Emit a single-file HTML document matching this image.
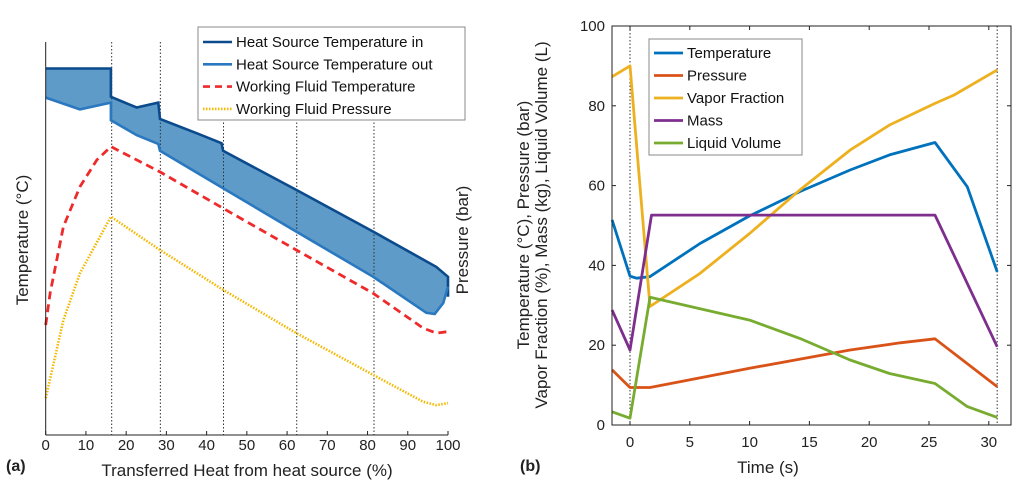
<!DOCTYPE html>
<html><head><meta charset="utf-8"><style>
body{margin:0;background:#fff;}
svg{display:block;font-family:"Liberation Sans",sans-serif;}
</style></head><body>
<svg id="fig" width="1024" height="492" viewBox="0 0 1024 492"></svg>
<script>
// ---- Chart (a) data ----
const aHotInX = [0,16.2,16.2,22.6,28.0,28.4,37.5,43.7,44.1,62.3,81.4,97.1,100,100];
const aHotInY = [95.7,95.7,88.3,85.5,86.8,82.5,78.8,76.2,74.2,64,53.1,43.9,41.3,36.1];
const aHotOutX = [0,8.5,16.2,16.2,22.6,28.0,28.4,44.1,62.3,81.4,94.6,96.7,98.8,100];
const aHotOutY = [88.1,85.0,86.8,82.2,78.3,76.0,74.2,64.4,53.1,41.3,31.9,31.6,34.4,38.7];
const aWfX = [0,1.1,4.4,8.5,12.7,16.2,28.4,44.1,62.3,81.4,93.8,97.1,100];
const aWfY = [28.7,37,54.4,64.8,71.8,75.3,68.7,59.2,48.3,37,27.9,26.6,27];
const aPrX = [0,4.4,8.5,16.2,28.4,44.1,62.3,81.4,93.8,97.1,100];
const aPrY = [9.6,30,42.2,57,48.3,37.9,26.6,15.7,8.7,7.8,8.3];
const aDivX = [16.4,28.5,44.2,62.4,81.6];
const aTicks = [0,10,20,30,40,50,60,70,80,90,100];
// ---- Chart (b) data ----
const bTempX=[-1.5,0,0.56,1.67,5.85,10,14.2,18.4,21.7,25.5,28.2,30.7];
const bTempY=[51.4,37.3,36.8,37.2,45.5,52.4,58.5,63.9,67.7,70.8,59.7,38.4];
const bPresX=[-1.5,0,1.67,10,18.4,22.6,25.5,30.7];
const bPresY=[13.8,9.4,9.4,14.2,18.8,20.6,21.6,9.6];
const bVapX=[-1.5,0,1.67,5.85,10,14.2,18.4,21.7,25.5,27.1,30.7];
const bVapY=[87.3,90,29.7,38,48,58.9,68.9,75.2,80.6,82.7,89];
const bMassX=[-1.5,0,1.8,25.5,30.7];
const bMassY=[28.8,18.8,52.6,52.6,19.6];
const bLiqX=[-1.5,0,1.67,10,14.2,18.4,21.7,25.5,28.2,30.7];
const bLiqY=[3.3,1.7,32,26.3,21.7,16.3,12.9,10.4,4.6,1.9];
const bXTicks=[0,5,10,15,20,25,30];
const bYTicks=[0,20,40,60,80,100];

const NS="http://www.w3.org/2000/svg";
const svg=document.getElementById('fig');
function mk(tag,attrs,parent){const e=document.createElementNS(NS,tag);for(const k in attrs)e.setAttribute(k,attrs[k]);(parent||svg).appendChild(e);return e;}
function txt(s,x,y,attrs){const e=mk('text',Object.assign({x:x,y:y},attrs||{}));e.textContent=s;return e;}

const axL=45.7, axR=448, ayB=435, ayT=52;
const ax=v=>axL+(axR-axL)*v/100;
const ay=v=>ayB-(ayB-ayT)*v/100;
const bxL=612, bxR=1011, byB=425, byT=26;
const bx=v=>630+v*11.96;
const by=v=>byB-(byB-byT)*v/100;

function pts(X,Y,fx,fy){return X.map((x,i)=>fx(x).toFixed(1)+','+fy(Y[i]).toFixed(1)).join(' ');}

// ---------- Chart a ----------
const ga=mk('g',{});


let band=pts(aHotInX,aHotInY,ax,ay)+' '+pts(aHotOutX.slice().reverse(),aHotOutY.slice().reverse(),ax,ay);
const bandEl=mk('polygon',{points:band,fill:'#5e9bc8',stroke:'none'},ga);


aDivX.forEach(d=>{const l=mk('line',{x1:ax(d),x2:ax(d),y1:ayT-10,y2:ayB,stroke:'#333','stroke-width':1,'stroke-dasharray':'1.5,2'},ga);

});
const hin=mk('polyline',{points:pts(aHotInX,aHotInY,ax,ay),fill:'none',stroke:'#0b4a8c','stroke-width':2.6},ga);


const hout=mk('polyline',{points:pts(aHotOutX,aHotOutY,ax,ay),fill:'none',stroke:'#2a78c0','stroke-width':2.6},ga);


const wf=mk('polyline',{points:pts(aWfX,aWfY,ax,ay),fill:'none',stroke:'#ee2a2a','stroke-width':2.8,'stroke-dasharray':'8,5'},ga);


const wp=mk('polyline',{points:pts(aPrX,aPrY,ax,ay),fill:'none',stroke:'#f5b800','stroke-width':2.6,'stroke-dasharray':'1.5,1.5'},ga);


mk('line',{x1:axL,x2:axL,y1:42,y2:ayB,stroke:'#222','stroke-width':1},ga);
mk('line',{x1:axL,x2:axR,y1:ayB,y2:ayB,stroke:'#222','stroke-width':1},ga);
aTicks.forEach(t=>{mk('line',{x1:ax(t),x2:ax(t),y1:ayB,y2:ayB-4,stroke:'#222'},ga);
const e=txt(t,ax(t),450,{'font-size':15,'text-anchor':'middle',fill:'#222'});

});
let e;
e=txt('Transferred Heat from heat source (%)',247,476,{'font-size':17,'text-anchor':'middle',fill:'#222'});

e=txt('Temperature (°C)',0,0,{'font-size':17,'text-anchor':'middle',fill:'#222',transform:'translate(28,240) rotate(-90)'});

e=txt('Pressure (bar)',0,0,{'font-size':17,'text-anchor':'middle',fill:'#222',transform:'translate(468,240) rotate(-90)'});

e=txt('(a)',6,471,{'font-size':16,'font-weight':'bold',fill:'#222'});

const lga=mk('g',{},ga);


mk('rect',{x:198,y:27,width:267,height:93,fill:'#fff',stroke:'#888','stroke-width':1},lga);
[['Heat Source Temperature in','#0b4a8c',''],['Heat Source Temperature out','#2a78c0',''],['Working Fluid Temperature','#ee2a2a','7,5'],['Working Fluid Pressure','#f5b800','1.5,1.5']].forEach((it,i)=>{
const y=42+i*22.3;
const g=mk('g',{},lga);


mk('line',{x1:203,x2:232,y1:y,y2:y,stroke:it[1],'stroke-width':2.6,'stroke-dasharray':it[2]},g);
txt(it[0],236,y+5,{'font-size':15,fill:'#111'});
});

// ---------- Chart b ----------
const gb=mk('g',{});


[0,30.7].forEach(d=>{const l=mk('line',{x1:bx(d),x2:bx(d),y1:byT,y2:byB,stroke:'#333','stroke-dasharray':'1.5,2'},gb);

});
const series=[[bTempX,bTempY,'#0072bd','temperature-line'],[bPresX,bPresY,'#d95319','pressure-line'],[bVapX,bVapY,'#edb120','vapor-fraction-line'],[bMassX,bMassY,'#7e2f8e','mass-line'],[bLiqX,bLiqY,'#77ac30','liquid-volume-line']];
series.forEach(s=>{const l=mk('polyline',{points:pts(s[0],s[1],bx,by),fill:'none',stroke:s[2],'stroke-width':2.8,'stroke-linejoin':'round'},gb);

});
mk('rect',{x:bxL,y:byT,width:bxR-bxL,height:byB-byT,fill:'none',stroke:'#222','stroke-width':1},gb);
bXTicks.forEach(t=>{mk('line',{x1:bx(t),x2:bx(t),y1:byB,y2:byB-4,stroke:'#222'},gb);
mk('line',{x1:bx(t),x2:bx(t),y1:byT,y2:byT+4,stroke:'#222'},gb);
const e=txt(t,bx(t),447,{'font-size':15,'text-anchor':'middle',fill:'#222'});

});
bYTicks.forEach(t=>{mk('line',{x1:bxL,x2:bxL+4,y1:by(t),y2:by(t),stroke:'#222'},gb);
mk('line',{x1:bxR,x2:bxR-4,y1:by(t),y2:by(t),stroke:'#222'},gb);
const e=txt(t,605,by(t)+5,{'font-size':15,'text-anchor':'end',fill:'#222'});

});
e=txt('Time (s)',768,473,{'font-size':17,'text-anchor':'middle',fill:'#222'});

e=txt('Temperature (°C), Pressure (bar)',0,0,{'font-size':17,'text-anchor':'middle',fill:'#222',transform:'translate(529,225) rotate(-90)'});

e=txt('Vapor Fraction (%), Mass (kg), Liquid Volume (L)',0,0,{'font-size':17,'text-anchor':'middle',fill:'#222',transform:'translate(547,225) rotate(-90)'});

e=txt('(b)',520,471,{'font-size':16,'font-weight':'bold',fill:'#222'});

const lgb=mk('g',{},gb);


mk('rect',{x:649,y:39,width:153,height:116,fill:'#fff',stroke:'#888'},lgb);
[['Temperature','#0072bd'],['Pressure','#d95319'],['Vapor Fraction','#edb120'],['Mass','#7e2f8e'],['Liquid Volume','#77ac30']].forEach((it,i)=>{
const y=53+i*22.5;
const g=mk('g',{},lgb);


mk('line',{x1:654,x2:683,y1:y,y2:y,stroke:it[1],'stroke-width':2.8},g);
txt(it[0],687,y+5,{'font-size':15,fill:'#111'});
});
</script>
</body></html>
